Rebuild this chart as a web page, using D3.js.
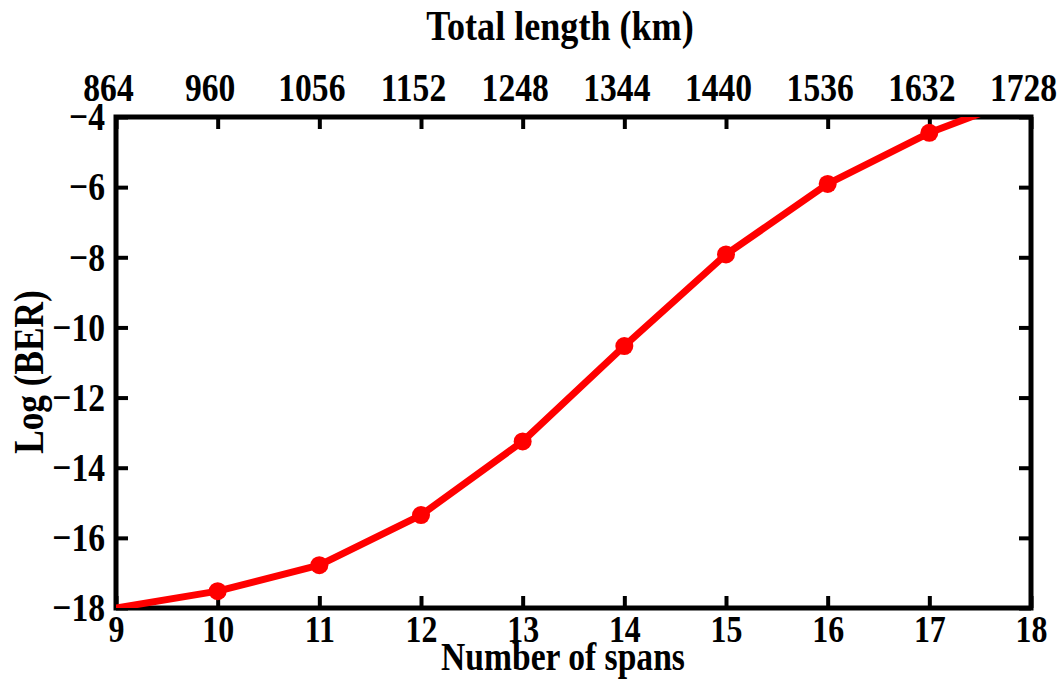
<!DOCTYPE html>
<html>
<head>
<meta charset="utf-8">
<script src="https://cdn.jsdelivr.net/npm/d3@7"></script>
<style>
  html, body { margin: 0; padding: 0; background: #fff; }
  text { font-family: "Liberation Serif", "Times New Roman", serif; font-weight: bold; fill: #000; }
</style>
</head>
<body>
<svg id="chart" width="1062" height="680"></svg>
<script>
// ---- data ----
const spans = [9, 10, 11, 12, 13, 14, 15, 16, 17, 18];
const logBer = [-18.0, -17.52, -16.78, -15.35, -13.25, -10.53, -7.92, -5.91, -4.45, -3.35];
const markedSpans = [10, 11, 12, 13, 14, 15, 16, 17];
const xTicks = [9, 10, 11, 12, 13, 14, 15, 16, 17, 18];
const topTickLabels = ["864", "960", "1056", "1152", "1248", "1344", "1440", "1536", "1632", "1728"];
const yTicks = [-18, -16, -14, -12, -10, -8, -6, -4];

const xTitle = "Number of spans";
const topTitle = "Total length (km)";
const yTitle = "Log (BER)";

// ---- layout ----
const W = 1062, H = 680;
const m = { left: 116, right: 31, top: 117, bottom: 72 };
const pw = W - m.left - m.right, ph = H - m.top - m.bottom;
const SX = 0.84;   // horizontal squeeze of the glyphs

const svg = d3.select("#chart");
const x = d3.scaleLinear().domain([9, 18]).range([m.left, m.left + pw]);
const y = d3.scaleLinear().domain([-18, -4]).range([m.top + ph, m.top]);

svg.append("defs").append("clipPath").attr("id", "clip")
  .append("rect").attr("x", m.left).attr("y", m.top).attr("width", pw).attr("height", ph);

const tickLen = 12;

function squash(sel, dx) {
  sel.attr("x", function () { return ((+this.getAttribute("x") || 0) + (dx || 0)) / SX; })
     .attr("transform", `scale(${SX},1)`);
}
function styleAxis(g, fs) {
  g.select(".domain").remove();
  g.selectAll(".tick line").attr("stroke", "#000").attr("stroke-width", 4);
  g.selectAll(".tick text").style("font-size", fs + "px");
}

// bottom axis
svg.append("g").attr("transform", `translate(0,${m.top + ph})`)
  .call(d3.axisBottom(x).tickValues(xTicks).tickSize(-tickLen).tickPadding(7).tickFormat(d3.format("d")))
  .call(g => styleAxis(g, 38))
  .call(g => squash(g.selectAll(".tick text")));

// top axis
svg.append("g").attr("transform", `translate(0,${m.top})`)
  .call(d3.axisTop(x).tickValues(xTicks).tickSize(-tickLen).tickPadding(16)
        .tickFormat((d, i) => topTickLabels[i]))
  .call(g => styleAxis(g, 40))
  .call(g => squash(g.selectAll(".tick text"), -8));

// left axis
svg.append("g").attr("transform", `translate(${m.left},0)`)
  .call(d3.axisLeft(y).tickValues(yTicks).tickSize(-tickLen).tickPadding(11).tickFormat(d3.format("d")))
  .call(g => styleAxis(g, 40))
  .call(g => squash(g.selectAll(".tick text")));

// right axis (ticks only)
svg.append("g").attr("transform", `translate(${m.left + pw},0)`)
  .call(d3.axisRight(y).tickValues(yTicks).tickSize(-tickLen).tickFormat(""))
  .call(g => styleAxis(g, 40));

// frame
svg.append("rect").attr("x", m.left).attr("y", m.top).attr("width", pw).attr("height", ph)
  .attr("fill", "none").attr("stroke", "#000").attr("stroke-width", 5);

// series
const pts = spans.map((s, i) => ({ s, v: logBer[i] }));
const line = d3.line().x(d => x(d.s)).y(d => y(d.v));
const plot = svg.append("g").attr("clip-path", "url(#clip)");
plot.append("path").datum(pts).attr("d", line)
  .attr("fill", "none").attr("stroke", "#ff0000").attr("stroke-width", 7).attr("stroke-linejoin", "round");
plot.selectAll("circle").data(pts.filter(d => markedSpans.includes(d.s))).join("circle")
  .attr("cx", d => x(d.s)).attr("cy", d => y(d.v)).attr("r", 9).attr("fill", "#ff0000");

// titles
svg.append("text").attr("x", 563 / SX).attr("y", 670).attr("transform", `scale(${SX},1)`)
  .attr("text-anchor", "middle").style("font-size", "40px").text(xTitle);
svg.append("text").attr("x", 560 / SX).attr("y", 40).attr("transform", `scale(${SX},1)`)
  .attr("text-anchor", "middle").style("font-size", "43px").text(topTitle);
svg.append("text").attr("transform", `translate(43,372) rotate(-90) scale(${SX},1)`)
  .attr("text-anchor", "middle").style("font-size", "42px").text(yTitle);
</script>
</body>
</html>
